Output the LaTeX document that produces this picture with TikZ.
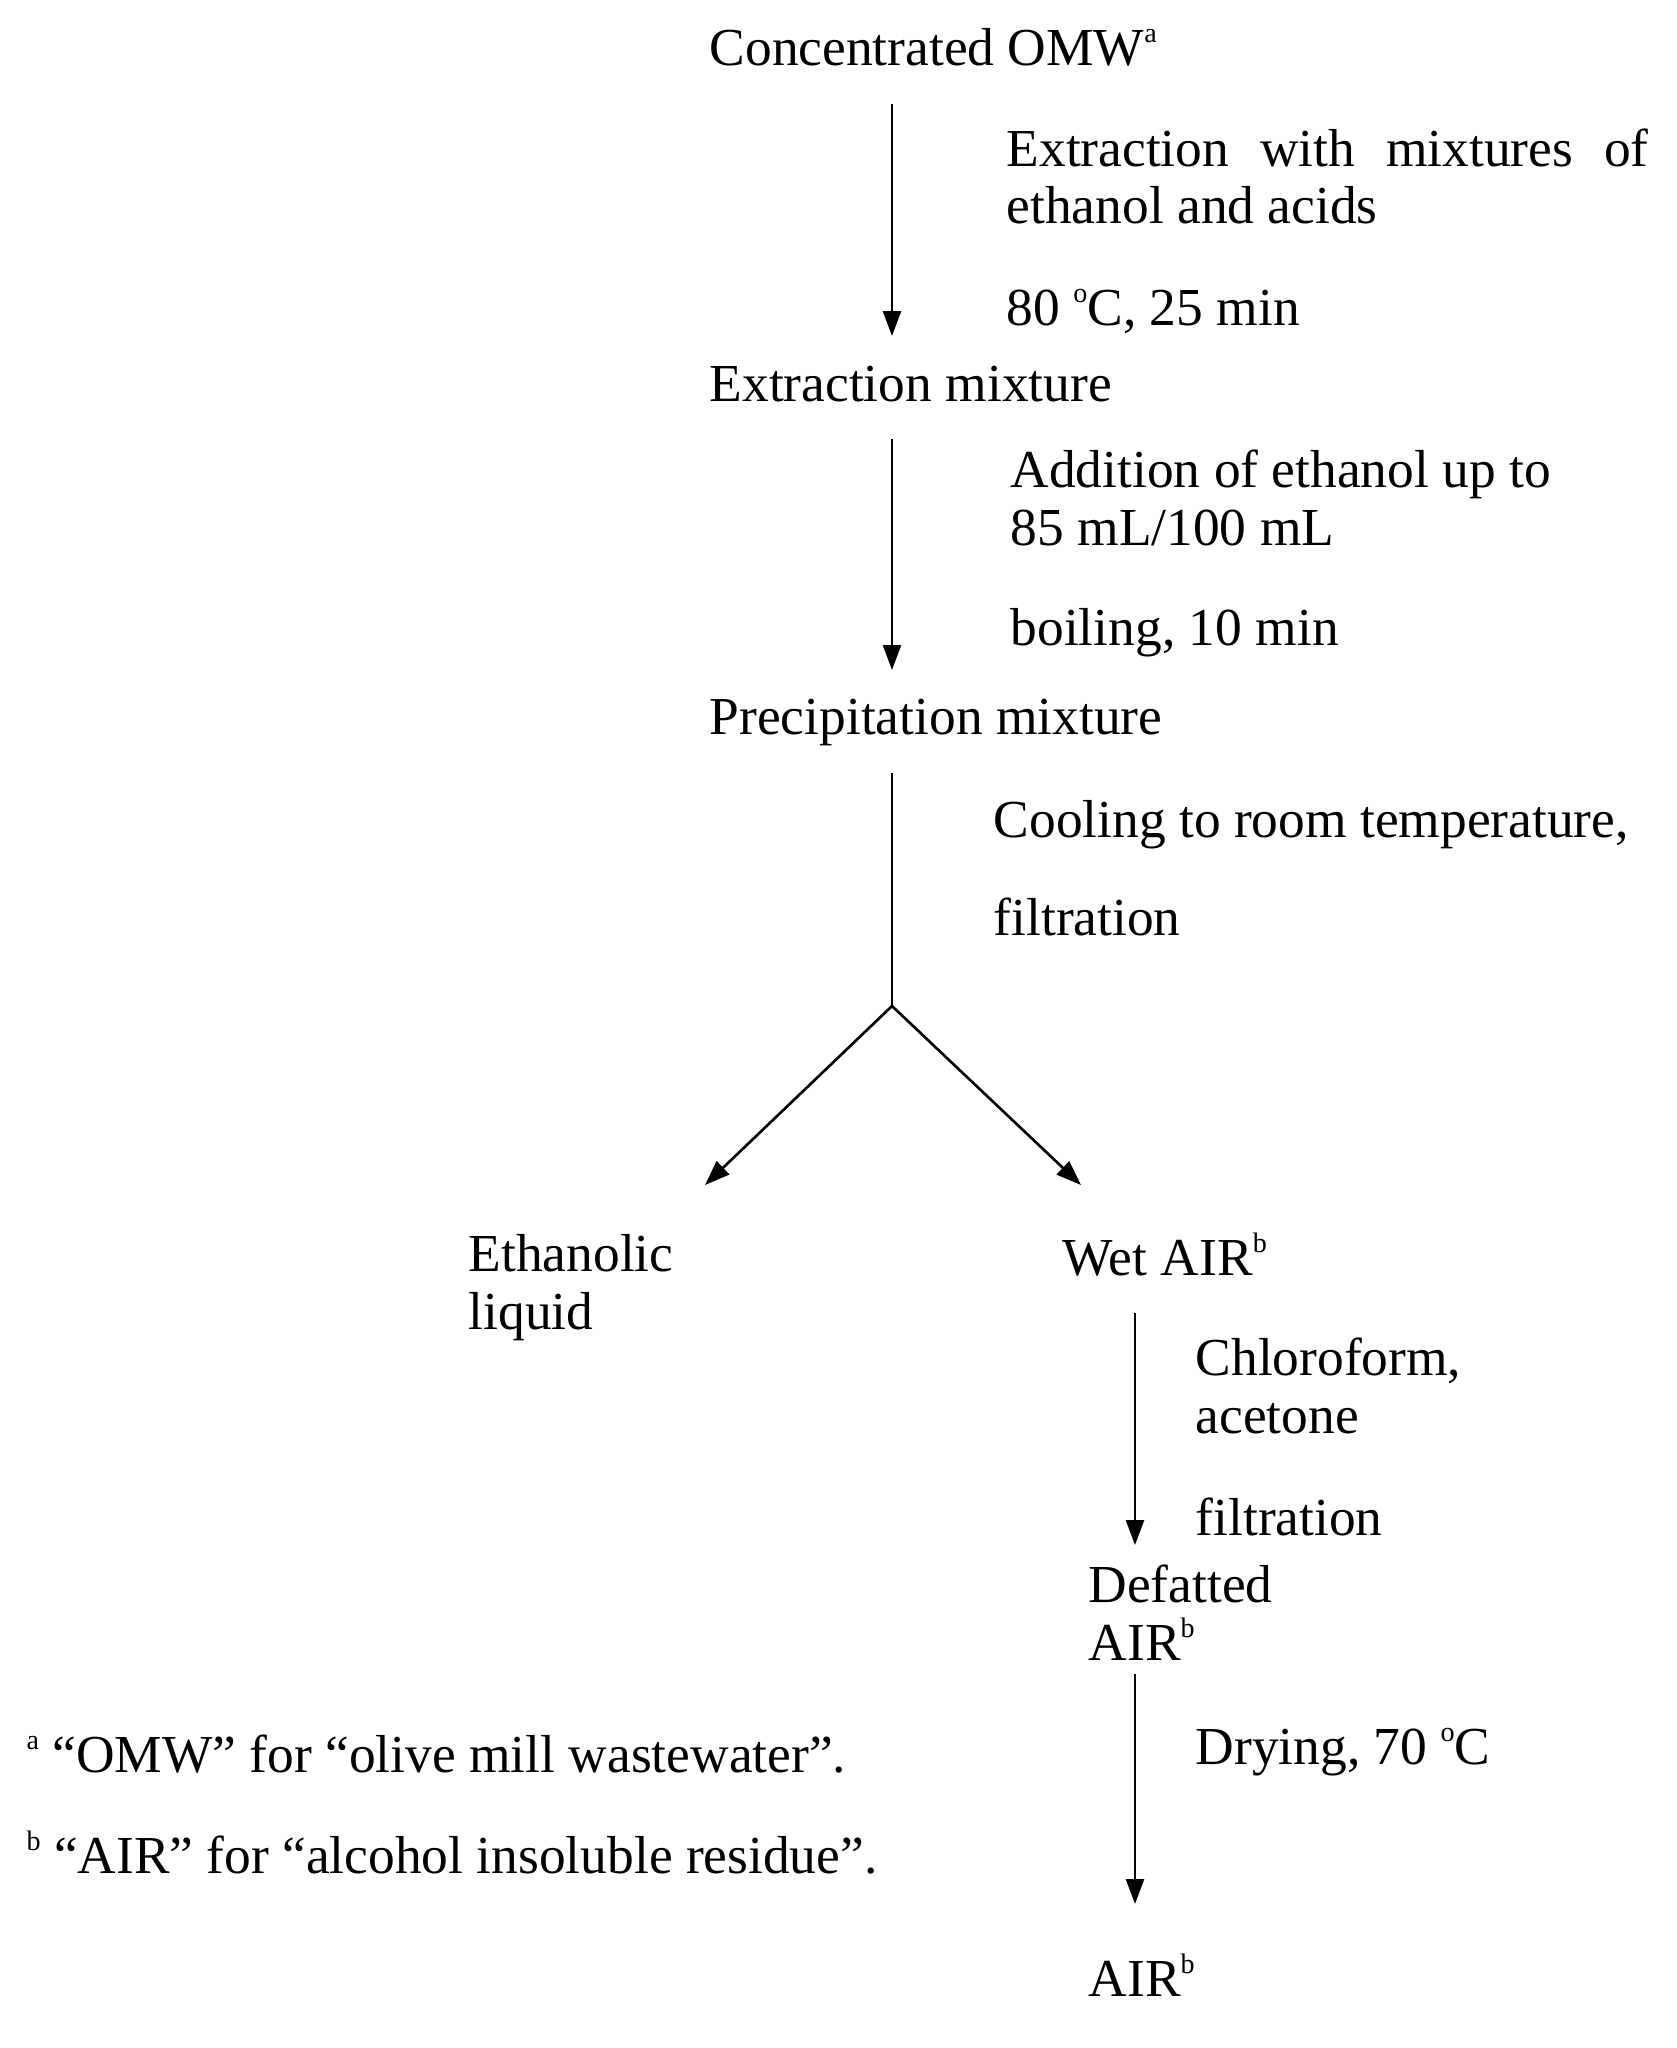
\documentclass[tikz,border=0pt]{standalone}
\usepackage{fontspec}
\setmainfont{Liberation Serif}
\usetikzlibrary{arrows.meta}

\newcommand{\supl}[1]{\raisebox{0.9ex}{\fontsize{8pt}{8pt}\selectfont #1}}

\begin{document}
\begin{tikzpicture}
    \tikzstyle{t}=[anchor=base west, inner sep=0pt, align=left, font=\fontsize{15.2pt}{16.4pt}\selectfont]
    \tikzstyle{e}=[-{Triangle[length=2.5mm,width=1.8mm]}, line width=0.75pt]

    \def\xa{8.92}
    \def\xb{11.35}

    \useasboundingbox (0,0) rectangle (16.77,-20.48);

    % main column (two-line nodes sit on their last line)
    \node[t] (omw) at (7.09,-0.65) {Concentrated OMW\supl{a}};
    \node[t, text width=6.42cm, align=justify] (extr) at (10.06,-1.66) {Extraction with mixtures of\linebreak ethanol and acids};
    \node[t] (temp) at (10.06,-3.25) {80 \supl{o}C, 25 min};
    \node[t] (mix) at (7.09,-4.01) {Extraction mixture};
    \node[t] (add) at (10.10,-5.45) {Addition of ethanol up to\\85 mL/100 mL};
    \node[t] (boil) at (10.10,-6.45) {boiling, 10 min};
    \node[t] (prec) at (7.09,-7.34) {Precipitation mixture};
    \node[t] (cool) at (9.93,-8.37) {Cooling to room temperature,};
    \node[t] (filt) at (9.93,-9.35) {filtration};

    % branches
    \node[t] (liq) at (4.68,-13.29) {Ethanolic\\liquid};
    \node[t] (wet) at (10.62,-12.75) {Wet AIR\supl{b}};
    \node[t] (chl) at (11.95,-14.33) {Chloroform,\\acetone};
    \node[t] (filtb) at (11.95,-15.35) {filtration};
    \node[t] (def) at (10.88,-16.60) {Defatted\\AIR\supl{b}};
    \node[t] (dry) at (11.95,-17.64) {Drying, 70 \supl{o}C};
    \node[t] (air) at (10.88,-19.96) {AIR\supl{b}};

    % footnotes
    \node[t] (fna) at (0.26,-17.72) {\supl{a} “OMW” for “olive mill wastewater”.};
    \node[t] (fnb) at (0.26,-18.73) {\supl{b} “AIR” for “alcohol insoluble residue”.};

    \coordinate (a1s) at (\xa,-1.04);
    \coordinate (a1e) at (\xa,-3.36);
    \coordinate (a2s) at (\xa,-4.39);
    \coordinate (a2e) at (\xa,-6.70);
    \coordinate (a3s) at (\xa,-7.73);
    \coordinate (fork) at (\xa,-10.06);
    \coordinate (bl) at (7.05,-11.85);
    \coordinate (br) at (10.81,-11.85);
    \coordinate (a4s) at (\xb,-13.13);
    \coordinate (a4e) at (\xb,-15.45);
    \coordinate (a5s) at (\xb,-16.74);
    \coordinate (a5e) at (\xb,-19.04);

    \draw[e] (a1s) -- (a1e);
    \draw[e] (a2s) -- (a2e);
    \draw[line width=0.5pt] (a3s) -- (fork);
    \draw[e] (fork) -- (bl);
    \draw[e] (fork) -- (br);
    \draw[e] (a4s) -- (a4e);
    \draw[e] (a5s) -- (a5e);

\end{tikzpicture}
\end{document}
